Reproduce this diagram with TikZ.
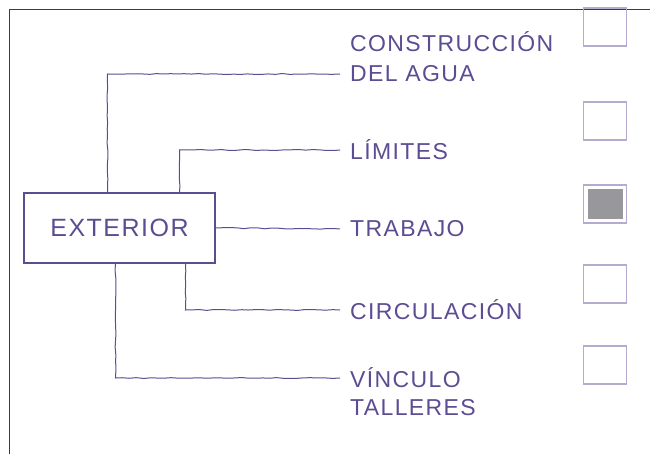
\documentclass[tikz,border=0pt]{standalone}
\usepackage{fontspec}
\setmainfont{Liberation Sans}
\newfontfamily\handfont[LetterSpace=6]{Liberation Sans}
\usetikzlibrary{positioning,decorations.pathmorphing}
\definecolor{ink}{RGB}{92,76,146}
\definecolor{boxline}{RGB}{182,170,208}
\definecolor{boxfill}{RGB}{152,152,156}
\definecolor{frameline}{RGB}{60,60,60}
\tikzset{
  inkline/.style={draw=ink, line width=1pt, decorate,
    decoration={random steps, segment length=7pt, amplitude=0.5pt}},
  rootbox/.style={draw=ink, line width=1.1pt, minimum width=191pt, minimum height=70pt,
    font=\handfont\fontsize{25}{29}\selectfont, text=ink},
  itemlabel/.style={anchor=west, inner xsep=10pt, inner ysep=3pt,
    font=\handfont\fontsize{23}{27}\selectfont, text=ink},
  checkbox/.style={draw=boxline, line width=1.6pt, minimum width=43pt, minimum height=38pt, inner sep=0pt},
  checkdone/.style={checkbox, path picture={
    \fill[boxfill] ([shift={(4pt,-4pt)}]path picture bounding box.north west)
      rectangle ([shift={(-4pt,4pt)}]path picture bounding box.south east);}},
}

\begin{document}
\begin{tikzpicture}[x=1pt, y=-1pt]
  \useasboundingbox (0,0) rectangle (650,454);
  % frame
  \draw[frameline, line width=1.8pt] (650,9.5) -- (9.5,9.5) -- (9.5,454);

  % root
  \node[rootbox] (ext) at (119.5,228) {EXTERIOR};

  % labels
  \node[itemlabel] (cons) at (340,42) {CONSTRUCCIÓN};
  \node[itemlabel] (agua) at (340,74) {DEL AGUA};
  \node[itemlabel] (lim) at (340,150) {LÍMITES};
  \node[itemlabel] (trab) at (340,229) {TRABAJO};
  \node[itemlabel] (circ) at (340,310) {CIRCULACIÓN};
  \node[itemlabel] (vinc) at (340,378) {VÍNCULO};
  \node[itemlabel] (tall) at (340,408) {TALLERES};

  % check boxes
  \node[checkbox] (chk1) at (605,27) {};
  \node[checkbox] (chk2) at (605,121) {};
  \node[checkdone] (chk3) at (605,204) {};
  \node[checkbox] (chk4) at (605,284) {};
  \node[checkbox] (chk5) at (605,365) {};

  % connectors
  \draw[inkline] ([xshift=-12pt]ext.north) |- (agua.west);
  \draw[inkline] ([xshift=60pt]ext.north) |- (lim.west);
  \draw[inkline] (ext.east) -- (trab.west);
  \draw[inkline] ([xshift=66pt]ext.south) |- (circ.west);
  \draw[inkline] ([xshift=-4pt]ext.south) |- (vinc.west);
\end{tikzpicture}
\end{document}
